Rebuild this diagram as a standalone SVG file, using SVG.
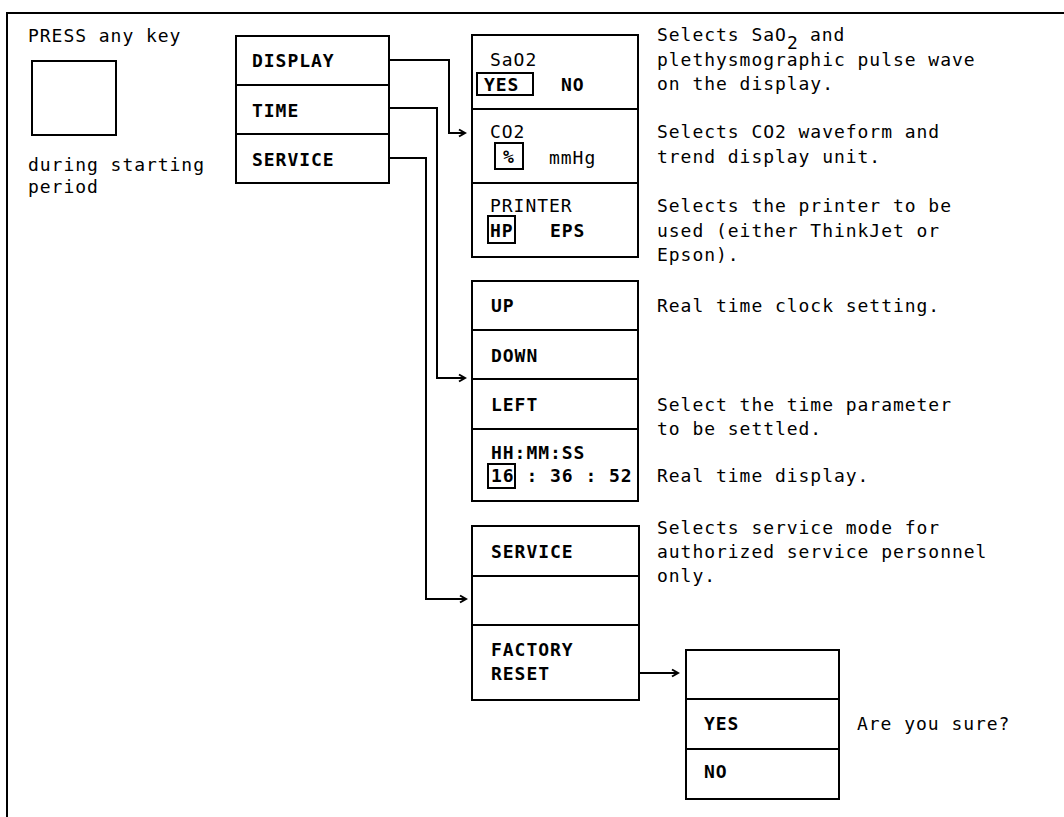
<svg xmlns="http://www.w3.org/2000/svg" width="1064" height="817" viewBox="0 0 1064 817">
<style>
.t{font-family:"DejaVu Sans Mono","Liberation Mono",monospace;font-size:18px;letter-spacing:0.96px;fill:#000}
.b{font-weight:bold}
.box{fill:none;stroke:#000;stroke-width:2}
.ln{fill:none;stroke:#000;stroke-width:2}
.con{fill:none;stroke:#000;stroke-width:2}
</style>
<defs>
<marker id="arr" markerWidth="10" markerHeight="10" refX="7" refY="5" orient="auto" markerUnits="userSpaceOnUse">
<path d="M1,1.5 L7,5 L1,8.5" fill="none" stroke="#000" stroke-width="2"/>
</marker>
</defs>
<rect width="1064" height="817" fill="#fff"/>
<g id="frame">
<path class="ln" d="M7,817 L7,13 L1064,13"/>
</g>
<g id="press">
<text class="t" x="28" y="42">PRESS any key</text>
<rect class="box" x="32" y="61" width="84" height="74"/>
<text class="t" x="28" y="171">during starting</text>
<text class="t" x="28" y="193">period</text>
</g>
<g id="menu">
<rect class="box" x="236" y="36" width="153" height="147"/>
<path class="ln" d="M236,85 H389 M236,134 H389"/>
<text class="t b" x="252" y="67">DISPLAY</text>
<text class="t b" x="252" y="117">TIME</text>
<text class="t b" x="252" y="166">SERVICE</text>
</g>
<g id="display-menu">
<rect class="box" x="472" y="35" width="166" height="222"/>
<path class="ln" d="M472,109 H638 M472,183 H638"/>
<text class="t" x="490" y="66">SaO2</text>
<rect class="box" x="477" y="73" width="56" height="22"/>
<text class="t b" x="484" y="91">YES</text>
<text class="t b" x="561" y="91">NO</text>
<text class="t" x="490" y="138">CO2</text>
<rect class="box" x="495" y="143" width="28" height="26"/>
<text class="t b" x="503" y="163">%</text>
<text class="t" x="549" y="164">mmHg</text>
<text class="t" x="490" y="212">PRINTER</text>
<rect class="box" x="488" y="216" width="27" height="27"/>
<text class="t b" x="490" y="237">HP</text>
<text class="t b" x="550" y="237">EPS</text>
</g>
<g id="display-desc">
<text class="t" x="657" y="41">Selects SaO</text>
<text class="t" x="787" y="49">2</text>
<text class="t" x="810" y="41">and</text>
<text class="t" x="657" y="66">plethysmographic pulse wave</text>
<text class="t" x="657" y="90">on the display.</text>
<text class="t" x="657" y="138">Selects CO2 waveform and</text>
<text class="t" x="657" y="163">trend display unit.</text>
<text class="t" x="657" y="212">Selects the printer to be</text>
<text class="t" x="657" y="237">used (either ThinkJet or</text>
<text class="t" x="657" y="261">Epson).</text>
</g>
<g id="time-menu">
<rect class="box" x="472" y="281" width="166" height="220"/>
<path class="ln" d="M472,330 H638 M472,379 H638 M472,429 H638"/>
<text class="t b" x="491" y="312">UP</text>
<text class="t b" x="491" y="362">DOWN</text>
<text class="t b" x="491" y="411">LEFT</text>
<text class="t b" x="491" y="459">HH:MM:SS</text>
<rect class="box" x="488" y="464" width="27" height="24"/>
<text class="t b" x="491" y="482">16 : 36 : 52</text>
</g>
<g id="time-desc">
<text class="t" x="657" y="312">Real time clock setting.</text>
<text class="t" x="657" y="411">Select the time parameter</text>
<text class="t" x="657" y="435">to be settled.</text>
<text class="t" x="657" y="482">Real time display.</text>
</g>
<g id="service-menu">
<rect class="box" x="472" y="526" width="167" height="174"/>
<path class="ln" d="M472,576 H639 M472,625 H639"/>
<text class="t b" x="491" y="558">SERVICE</text>
<text class="t b" x="491" y="656">FACTORY</text>
<text class="t b" x="491" y="680">RESET</text>
</g>
<g id="service-desc">
<text class="t" x="657" y="534">Selects service mode for</text>
<text class="t" x="657" y="558">authorized service personnel</text>
<text class="t" x="657" y="582">only.</text>
</g>
<g id="confirm-menu">
<rect class="box" x="686" y="650" width="153" height="149"/>
<path class="ln" d="M686,699 H839 M686,749 H839"/>
<text class="t b" x="704" y="730">YES</text>
<text class="t b" x="704" y="778">NO</text>
<text class="t" x="857" y="730">Are you sure?</text>
</g>
<g id="connectors">
<path class="con" d="M389,60 H449 V133 H465" marker-end="url(#arr)"/>
<path class="con" d="M389,108 H437 V378 H465" marker-end="url(#arr)"/>
<path class="con" d="M389,158 H426 V599 H466" marker-end="url(#arr)"/>
<path class="con" d="M639,673 H678" marker-end="url(#arr)"/>
</g>
</svg>
